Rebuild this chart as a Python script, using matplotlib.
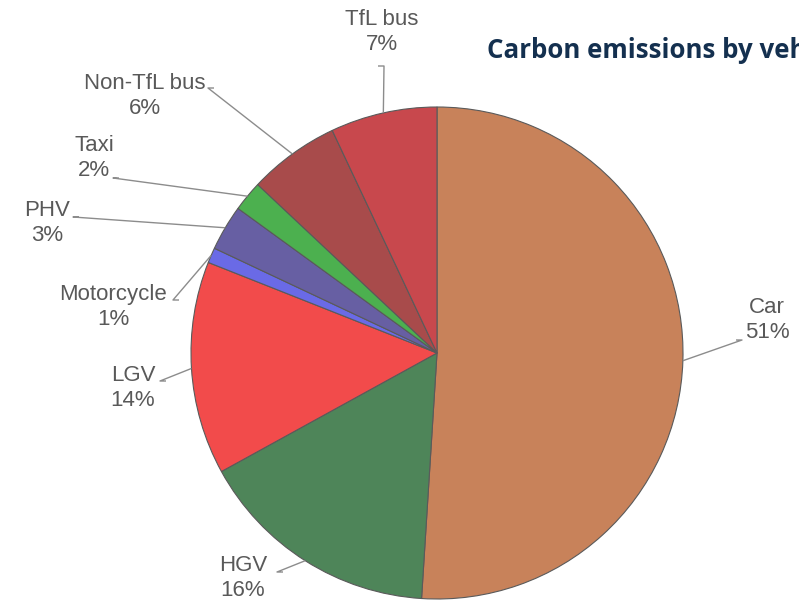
import numpy as np
import matplotlib.pyplot as plt

# data
vehicles = ["Car", "HGV", "LGV", "Motorcycle", "PHV", "Taxi", "Non-TfL bus", "TfL bus"]
shares = [51, 16, 14, 1, 3, 2, 6, 7]
colours = ["#C8825A", "#4E8559", "#F24B4B", "#6A6AE6", "#675FA3",
           "#4CB04F", "#A84B4B", "#C8484D"]

# layout in pixel space (y measured from the top)
label_pos = [(767, 320), (243, 578), (133, 388), (113, 307),
             (47, 223), (94, 158), (145, 96), (382, 32)]
elbow_pos = [(742, 340), (277, 572), (160, 381), (173, 300),
             (73, 217), (113, 178), (208, 88), (384, 66)]

W, H = 799, 601
cx, cy, r = 437, 353, 246

fig = plt.figure(figsize=(W / 100, H / 100), dpi=100)
ax = fig.add_axes([0, 0, 1, 1])

wedges, _ = ax.pie(shares, colors=colours, startangle=90, counterclock=False,
                   center=(cx, H - cy), radius=r,
                   wedgeprops=dict(edgecolor="#5a5a5a", linewidth=0.8))

for w, name, val, (tx, ty), (ex, ey) in zip(wedges, vehicles, shares,
                                              label_pos, elbow_pos):
    mid = np.deg2rad((w.theta1 + w.theta2) / 2)
    px = cx + r * np.cos(mid)
    py = (H - cy) + r * np.sin(mid)
    ax.plot([px, ex, ex + (6 if ex < px else -6)], [py, H - ey, H - ey],
            color="#8c8c8c", lw=1.0, solid_capstyle="butt")
    ax.text(tx, H - ty, f"{name}\n{val}%", ha="center", va="center",
            fontsize=16, color="#595959", family="Liberation Sans",
            linespacing=1.3)

# the title runs off the right edge, as in the source image
ax.text(487, H - 51, "Carbon emissions by vehicle type", ha="left", va="center",
        fontsize=18.6, fontweight="bold", color="#14304F", family="Open Sans")

ax.set_xlim(0, W)
ax.set_ylim(0, H)
ax.set_aspect("equal")
ax.axis("off")

fig.savefig("out.png", dpi=100)
